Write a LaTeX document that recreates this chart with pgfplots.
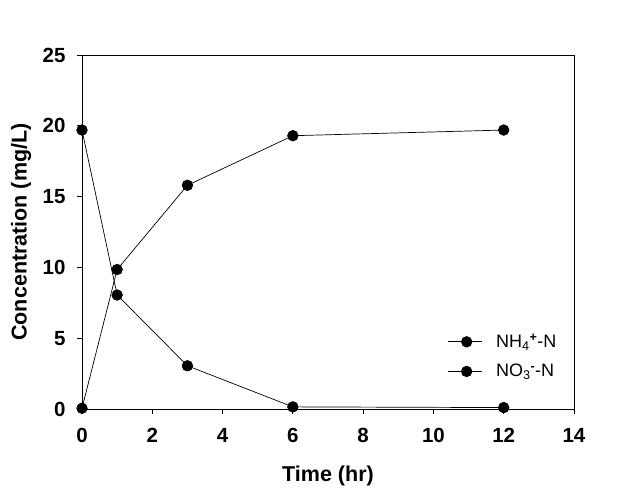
\documentclass[border=0pt]{standalone}
\usepackage{pgfplots}
\pgfplotsset{compat=1.18}
\usepackage{fontspec}
\setmainfont{Liberation Sans}
\begin{document}
\begin{tikzpicture}
\path (-82pt,-85pt) rectangle (548pt,409pt);
\begin{axis}[
  at={(0,0)}, anchor=south west,
  scale only axis, width=492pt, height=354pt,
  xmin=0, xmax=14, ymin=0, ymax=25,
  xtick={0,2,...,14}, ytick={0,5,...,25},
  xtick pos=bottom, ytick pos=left,
  tick align=outside,
  major tick length=5pt,
  axis line style={line width=0.9pt},
  tick style={line width=0.9pt, black},
  /pgf/number format/assume math mode=true,
  tick label style={font=\bfseries\fontsize{20.5}{23}\selectfont},
  xticklabel style={yshift=-11pt},
  yticklabel style={xshift=-8pt},
  xlabel={Time (hr)}, ylabel={Concentration (mg/L)},
  every axis x label/.style={at={(axis description cs:0.5,-0.19)},anchor=center,font=\bfseries\fontsize{21.5}{24}\selectfont},
  every axis y label/.style={at={(axis description cs:-0.124,0.5)},anchor=center,rotate=90,font=\bfseries\fontsize{21.5}{24}\selectfont},
  legend style={draw=none, fill=none, at={(axis description cs:0.736,0.223)}, anchor=north west,
    font=\fontsize{18}{20}\selectfont, row sep=11pt,
    /tikz/every odd column/.append style={column sep=12pt}},
  legend cell align=left,
  legend image code/.code={\draw[#1, mark repeat=2, mark phase=2] plot coordinates {(0pt,0pt) (19pt,0pt) (34pt,0pt)};},
]
\addplot[black, line width=0.7pt, mark=*, mark size=5.3pt, mark options={solid}] coordinates {
(0,19.7) (1,8.05) (3,3.05) (6,0.15) (12,0.1)};
\addlegendentry{NH\textsubscript{4}\textsuperscript{\textbf{+}}-N}
\addplot[black, line width=0.7pt, mark=*, mark size=5.3pt, mark options={solid}] coordinates {
(0,0.05) (1,9.85) (3,15.8) (6,19.3) (12,19.7)};
\addlegendentry{NO\textsubscript{3}\textsuperscript{\textbf{-}}-N}
\end{axis}
\end{tikzpicture}
\end{document}
